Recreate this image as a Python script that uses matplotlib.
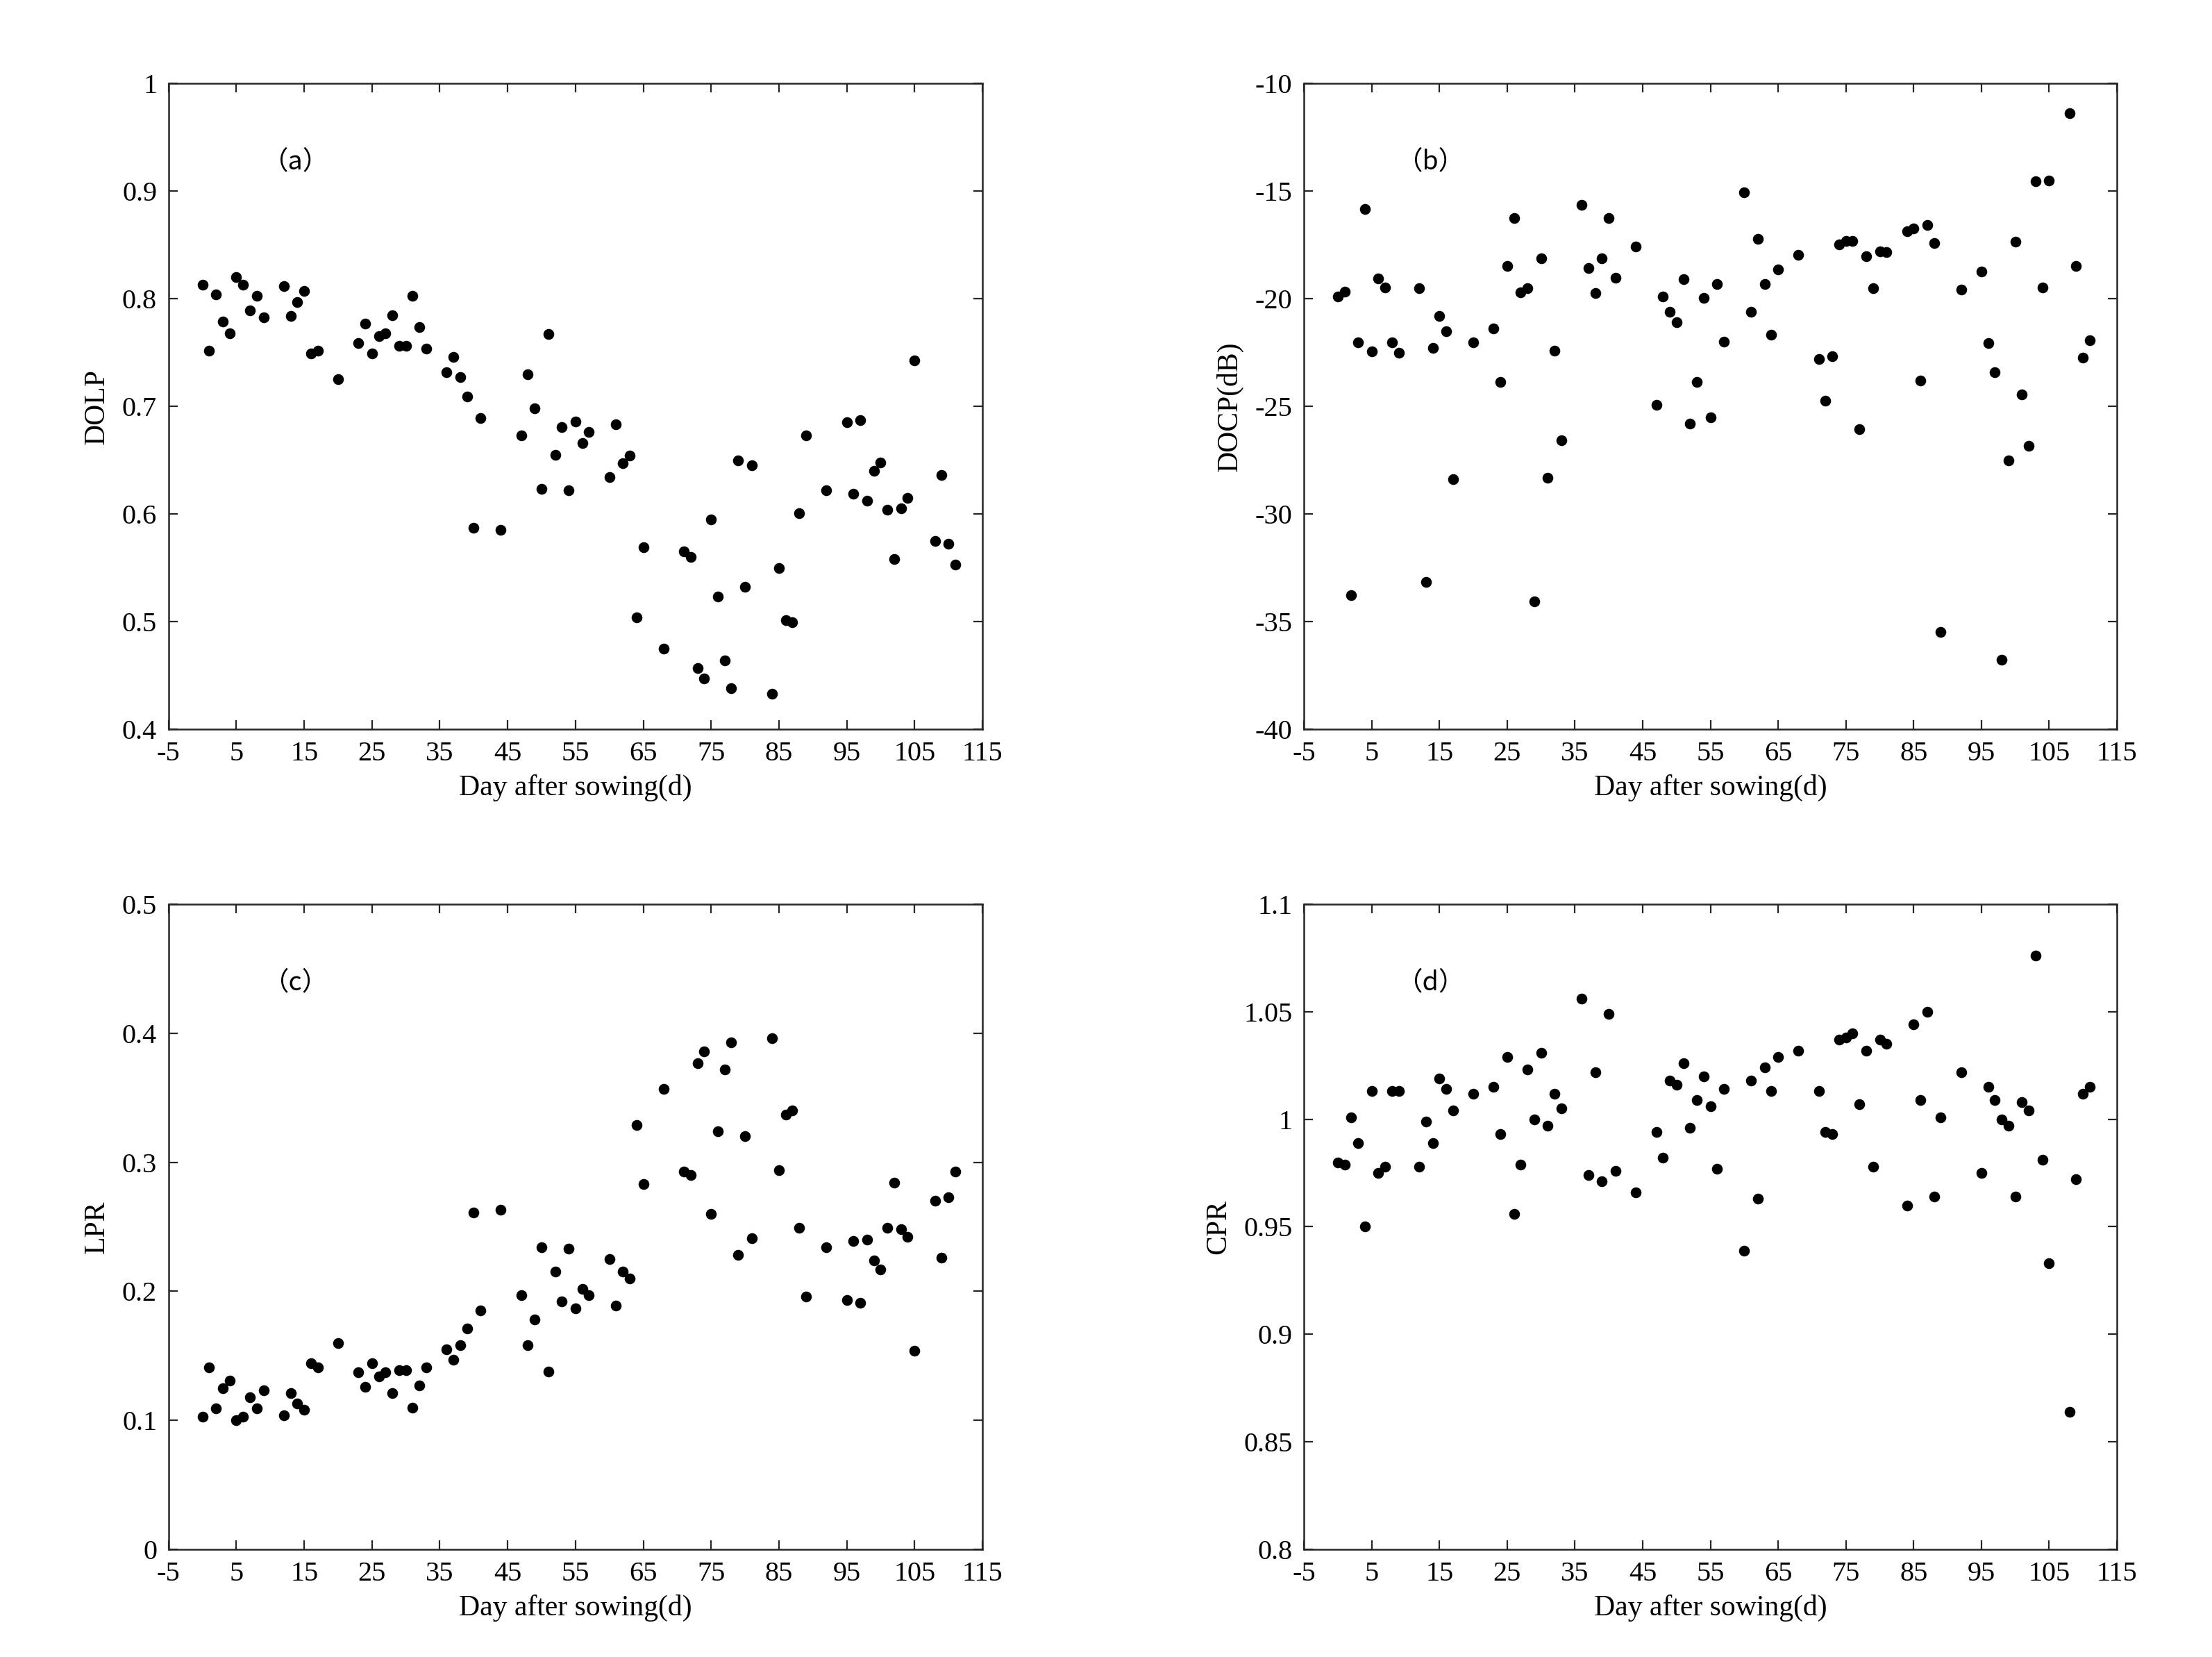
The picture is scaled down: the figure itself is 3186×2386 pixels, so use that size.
import numpy as np
import matplotlib
matplotlib.use('Agg')
import matplotlib.pyplot as plt
from matplotlib.ticker import FuncFormatter

plt.rcParams['font.family'] = ['Liberation Serif', 'DejaVu Serif']
plt.rcParams['axes.unicode_minus'] = False

days = [0, 1, 2, 3, 4, 5, 6, 7, 8, 9, 12, 13, 14, 15, 16, 17, 20,
        23, 24, 25, 26, 27, 28, 29, 30, 31, 32, 33, 36, 37, 38, 39, 40, 41, 44,
        47, 48, 49, 50, 51, 52, 53, 54, 55, 56, 57, 60, 61, 62, 63, 64, 65, 68,
        71, 72, 73, 74, 75, 76, 77, 78, 79, 80, 81, 84, 85, 86, 87, 88, 89, 92,
        95, 96, 97, 98, 99, 100, 101, 102, 103, 104, 105, 108, 109, 110, 111]

dolp = [0.813, 0.752, 0.804, 0.779, 0.768, 0.820, 0.813, 0.789, 0.803, 0.783,
        0.812, 0.784, 0.797, 0.807, 0.749, 0.752, 0.725,
        0.759, 0.777, 0.749, 0.765, 0.768, 0.785, 0.756, 0.756, 0.803, 0.774, 0.754,
        0.732, 0.746, 0.727, 0.709, 0.587, 0.689, 0.585,
        0.673, 0.730, 0.698, 0.623, 0.767, 0.655, 0.681, 0.622, 0.686, 0.666, 0.676,
        0.634, 0.683, 0.647, 0.654, 0.504, 0.569, 0.475,
        0.565, 0.560, 0.457, 0.447, 0.595, 0.523, 0.464, 0.438, 0.650, 0.532, 0.645,
        0.433, 0.550, 0.501, 0.499, 0.601, 0.673, 0.622,
        0.685, 0.619, 0.687, 0.612, 0.640, 0.648, 0.604, 0.558, 0.605, 0.615, 0.743,
        0.575, 0.636, 0.572, 0.553]

docp = [-19.89, -19.66, -33.76, -22.04, -15.84, -22.44, -19.06, -19.48, -22.02, -22.50,
        -19.50, -33.17, -22.28, -20.79, -21.52, -28.40, -22.04,
        -21.37, -23.87, -18.48, -16.26, -19.70, -19.50, -34.06, -18.11, -28.32, -22.40, -26.57,
        -15.62, -18.58, -19.74, -18.11, -16.24, -19.02, -17.57,
        -24.92, -19.89, -20.61, -21.09, -19.10, -25.80, -23.87, -19.97, -25.50, -19.30, -22.00,
        -15.05, -20.59, -17.23, -19.30, -21.68, -18.62, -17.95,
        -22.80, -24.74, -22.68, -17.47, -17.31, -17.31, -26.05, -18.03, -19.52, -17.79, -17.83,
        -16.85, -16.72, -23.79, -16.58, -17.41, -35.47, -19.56,
        -18.72, -22.06, -23.41, -36.78, -27.50, -17.35, -24.46, -26.83, -14.55, -19.48, -14.51,
        -11.37, -18.46, -22.72, -21.92]

lpr = [0.103, 0.141, 0.109, 0.125, 0.131, 0.100, 0.103, 0.118, 0.109, 0.123,
       0.104, 0.121, 0.113, 0.108, 0.144, 0.141, 0.160,
       0.137, 0.126, 0.144, 0.134, 0.137, 0.121, 0.139, 0.139, 0.110, 0.127, 0.141,
       0.155, 0.147, 0.158, 0.171, 0.261, 0.185, 0.263,
       0.197, 0.158, 0.178, 0.234, 0.138, 0.215, 0.192, 0.233, 0.187, 0.202, 0.197,
       0.225, 0.189, 0.215, 0.210, 0.329, 0.283, 0.357,
       0.293, 0.290, 0.377, 0.386, 0.260, 0.324, 0.372, 0.393, 0.228, 0.320, 0.241,
       0.396, 0.294, 0.337, 0.340, 0.249, 0.196, 0.234,
       0.193, 0.239, 0.191, 0.240, 0.224, 0.217, 0.249, 0.284, 0.248, 0.242, 0.154,
       0.270, 0.226, 0.273, 0.293]

cpr = [0.980, 0.979, 1.001, 0.989, 0.950, 1.013, 0.975, 0.978, 1.013, 1.013,
       0.978, 0.999, 0.989, 1.019, 1.014, 1.004, 1.012,
       1.015, 0.993, 1.029, 0.956, 0.979, 1.023, 1.000, 1.031, 0.997, 1.012, 1.005,
       1.056, 0.974, 1.022, 0.971, 1.049, 0.976, 0.966,
       0.994, 0.982, 1.018, 1.016, 1.026, 0.996, 1.009, 1.020, 1.006, 0.977, 1.014,
       0.939, 1.018, 0.963, 1.024, 1.013, 1.029, 1.032,
       1.013, 0.994, 0.993, 1.037, 1.038, 1.040, 1.007, 1.032, 0.978, 1.037, 1.035,
       0.960, 1.044, 1.009, 1.050, 0.964, 1.001, 1.022,
       0.975, 1.015, 1.009, 1.000, 0.997, 0.964, 1.008, 1.004, 1.076, 0.981, 0.933,
       0.864, 0.972, 1.012, 1.015]

panels = [
    (dolp, 'DOLP', (0.4, 1.0), np.arange(0.4, 1.01, 0.1), '（a）'),
    (docp, 'DOCP(dB)', (-40, -10), np.arange(-40, -9, 5), '（b）'),
    (lpr, 'LPR', (0, 0.5), np.arange(0, 0.51, 0.1), '（c）'),
    (cpr, 'CPR', (0.8, 1.1), np.arange(0.8, 1.101, 0.05), '（d）'),
]

positions = [
    [0.0762, 0.560, 0.3679, 0.3895],
    [0.5895, 0.560, 0.3675, 0.3895],
    [0.0762, 0.065, 0.3679, 0.3893],
    [0.5895, 0.065, 0.3675, 0.3893],
]

fig = plt.figure(figsize=(15.93, 11.93), dpi=200)

fmt = FuncFormatter(lambda v, p: ('%.2f' % v).rstrip('0').rstrip('.'))

for (vals, lab, ylim, yt, tag), pos in zip(panels, positions):
    ax = fig.add_axes(pos)
    ax.plot(days, vals, 'o', color='k', markersize=4.6, linestyle='none')
    ax.set_xlim(-5, 115)
    ax.set_ylim(*ylim)
    ax.set_xticks(np.arange(-5, 116, 10))
    ax.set_yticks(yt)
    ax.yaxis.set_major_formatter(fmt)
    ax.tick_params(direction='in', top=True, right=True, length=4.7,
                   width=0.8, labelsize=14.5, color='#262626', pad=6)
    for s in ax.spines.values():
        s.set_linewidth(0.9)
        s.set_color('#262626')
    ax.set_xlabel('Day after sowing(d)', fontsize=15, labelpad=4)
    ax.set_ylabel(lab, fontsize=15, labelpad=6)
    ax.text(0.156, 0.879, tag, transform=ax.transAxes, ha='center', va='center',
            fontsize=13.5, family=['Noto Sans CJK SC', 'DejaVu Sans'])

plt.savefig('out.png', dpi=200)
